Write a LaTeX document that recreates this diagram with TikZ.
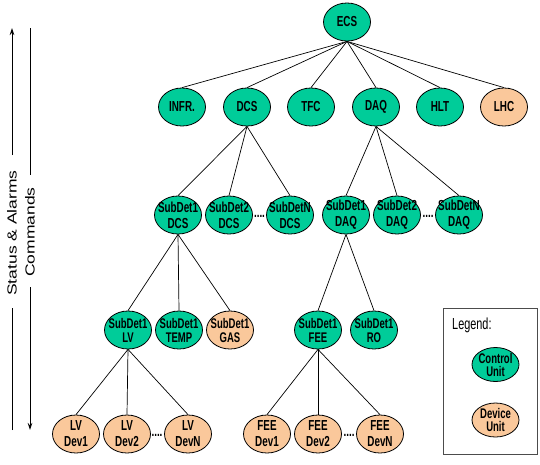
\documentclass[tikz,border=0pt]{standalone}
\usepackage{fontspec}
\setmainfont{Liberation Sans}
\newfontfamily\labfont{Liberation Sans}[FakeStretch=0.68]
\usetikzlibrary{shapes.geometric,arrows.meta}
\definecolor{cugreen}{RGB}{0,204,153}
\definecolor{duorange}{RGB}{250,200,155}
\tikzset{
  unit/.style={ellipse, draw=black, line width=0.8pt, minimum width=47pt, minimum height=38pt,
    inner xsep=-9pt, inner ysep=-7pt, align=center,
    font=\labfont\bfseries\fontsize{14.5}{16}\selectfont},
  cu/.style={unit, fill=cugreen},
  du/.style={unit, fill=duorange},
  tight/.style={font=\labfont\bfseries\fontsize{14}{14}\selectfont},
  link/.style={draw=black, line width=0.7pt},
  dots/.style={inner sep=0pt, anchor=base, font=\labfont\bfseries\fontsize{14.5}{14}\selectfont},
  flow/.style={draw=black, line width=0.9pt},
  side/.style={rotate=90, inner sep=0pt, font=\fontsize{17.5}{20}\selectfont},
}
\begin{document}
\begin{tikzpicture}[x=1pt,y=-1pt]
\useasboundingbox (0,0) rectangle (540,464);
% level 0
\node[cu] (ecs) at (347,22) {ECS};
% level 1
\node[cu] (infr) at (182,107) {INFR.};
\node[cu] (dcs) at (247,107) {DCS};
\node[cu] (tfc) at (311,107) {TFC};
\node[cu] (daq) at (376,107) {DAQ};
\node[cu] (hlt) at (440,107) {HLT};
\node[du] (lhc) at (504,107) {LHC};
% level 2
\node[cu] (s1dcs) at (178,215) {SubDet1\\DCS};
\node[cu] (s2dcs) at (229,215) {SubDet2\\DCS};
\node[cu] (sndcs) at (290,215) {SubDetN\\DCS};
\node[cu] (s1daq) at (346,215) {SubDet1\\DAQ};
\node[cu] (s2daq) at (397,215) {SubDet2\\DAQ};
\node[cu] (sndaq) at (459,215) {SubDetN\\DAQ};
% level 3
\node[cu,tight] (lv) at (128,330) {SubDet1\\LV};
\node[cu,tight] (temp) at (179,330) {SubDet1\\TEMP};
\node[du,tight] (gas) at (230,330) {SubDet1\\GAS};
\node[cu,tight] (fee) at (318,330) {SubDet1\\FEE};
\node[cu,tight] (ro) at (374,330) {SubDet1\\RO};
% level 4
\node[du] (lvd1) at (76,434) {LV\\Dev1};
\node[du] (lvd2) at (127,434) {LV\\Dev2};
\node[du] (lvdn) at (188,434) {LV\\DevN};
\node[du] (fd1) at (267,434) {FEE\\Dev1};
\node[du] (fd2) at (318,434) {FEE\\Dev2};
\node[du] (fdn) at (380,434) {FEE\\DevN};
% dots
\node[dots] (d1) at (259.5,217) {....};
\node[dots] (d2) at (428,217) {....};
\node[dots] (d3) at (157,436) {....};
\node[dots] (d4) at (349,436) {....};
% links
\foreach \c in {infr,dcs,tfc,daq,hlt,lhc} \draw[link] (ecs.south) -- (\c.north);
\foreach \c in {s1dcs,s2dcs,sndcs} \draw[link] (dcs.south) -- (\c.north);
\foreach \c in {s1daq,s2daq,sndaq} \draw[link] (daq.south) -- (\c.north);
\foreach \c in {lv,temp,gas} \draw[link] (s1dcs.south) -- (\c.north);
\foreach \c in {fee,ro} \draw[link] (s1daq.south) -- (\c.north);
\foreach \c in {lvd1,lvd2,lvdn} \draw[link] (lv.south) -- (\c.north);
\foreach \c in {fd1,fd2,fdn} \draw[link] (fee.south) -- (\c.north);
% side arrows
\node[side] (sa) at (12,233) {\scalebox{1}[0.75]{Status \& Alarms}};
\node[side] (cm) at (30,232) {\scalebox{1}[0.75]{Commands}};
\coordinate (satop) at (12,28);
\coordinate (samid1) at (12,155);
\coordinate (samid2) at (12,308);
\coordinate (sabot) at (12,430);
\coordinate (cmtop) at (30,28);
\coordinate (cmmid1) at (30,175);
\coordinate (cmmid2) at (30,287);
\coordinate (cmbot) at (30,430);
\draw[flow,-{Stealth[length=7pt,width=4.5pt]}] (samid1) -- (satop);
\draw[flow] (sabot) -- (samid2);
\draw[flow] (cmtop) -- (cmmid1);
\draw[flow,-{Stealth[length=7pt,width=4.5pt]}] (cmmid2) -- (cmbot);
% legend
\node[draw=black!70, line width=0.9pt, minimum width=94pt, minimum height=146pt, inner sep=0pt] (legend) at (490,381) {};
\node[anchor=west, inner sep=0pt, font=\labfont\fontsize{16}{16}\selectfont] (legt) at (452,325) {Legend:};
\node[cu,minimum height=34pt,font=\labfont\bfseries\fontsize{14}{13}\selectfont] (lcu) at (495.5,364.5) {Control\\Unit};
\node[du,minimum height=34pt,font=\labfont\bfseries\fontsize{14}{13}\selectfont] (ldu) at (495.5,420) {Device\\Unit};
\end{tikzpicture}
\end{document}
